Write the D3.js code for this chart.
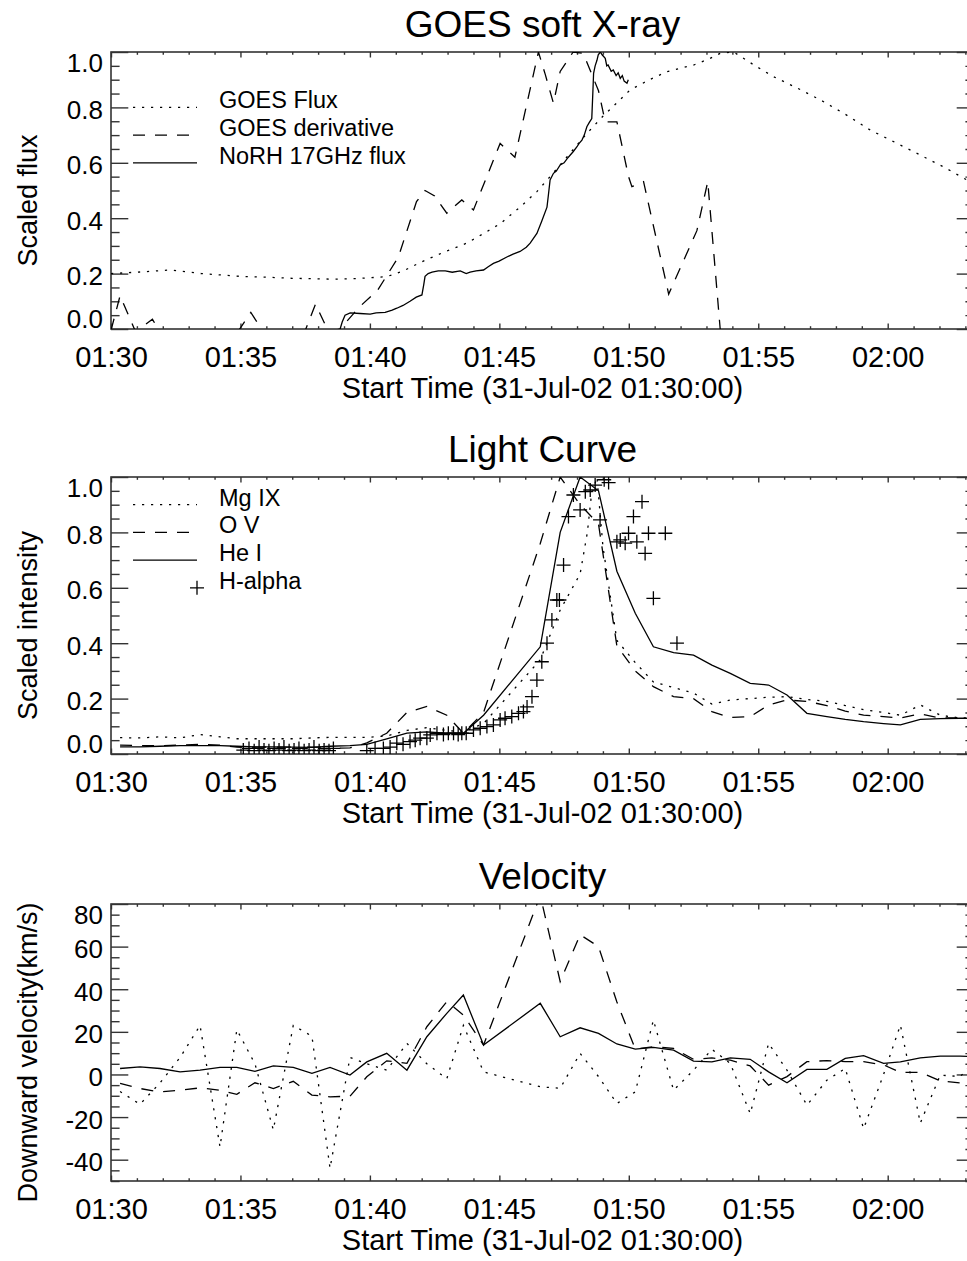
<!DOCTYPE html>
<html><head><meta charset="utf-8">
<script src="https://cdn.jsdelivr.net/npm/d3@7"></script>
<style>
body{margin:0;background:#fff}
svg{display:block}
text{font-family:"Liberation Sans",Arial,Helvetica,sans-serif;fill:#000}
</style>
</head><body>
<svg id="c" width="967" height="1261"></svg>
<script>
// ---------- axis tick labels ----------
const xTickMinutes = [0, 5, 10, 15, 20, 25, 30];
const xTickLabels = ["01:30", "01:35", "01:40", "01:45", "01:50", "01:55", "02:00"];
const yTicksScaled = [0, 0.2, 0.4, 0.6, 0.8, 1.0];
const yTickLabelsScaled = ["0.0", "0.2", "0.4", "0.6", "0.8", "1.0"];
const yTicksVel = [-40, -20, 0, 20, 40, 60, 80];
const yTickLabelsVel = ["-40", "-20", "0", "20", "40", "60", "80"];

// ---------- panel 1: GOES soft X-ray (time in minutes after 01:30) ----------
const goesFluxT = [0, 1, 2.3, 3.5, 5, 6, 7, 8.6, 9.5, 10.65, 11.3, 11.94, 12.8, 13.74, 14.4, 15.03, 15.8, 16.45, 16.96, 17.6, 18.38, 19.02, 20.05, 20.8, 21.47, 22.5, 23.1, 23.53, 24.05, 24.8, 25.59, 26.5, 27.4, 28.4, 29.33, 30.3, 31.26, 32.2, 33.06, 33.33];
const goesFluxV = [0.20, 0.205, 0.213, 0.20, 0.19, 0.187, 0.183, 0.18, 0.182, 0.189, 0.21, 0.24, 0.275, 0.31, 0.345, 0.38, 0.44, 0.496, 0.55, 0.62, 0.706, 0.77, 0.863, 0.90, 0.929, 0.953, 0.975, 0.995, 1.0, 0.955, 0.911, 0.87, 0.827, 0.773, 0.718, 0.673, 0.628, 0.583, 0.538, 0.53];

const goesDerivT = [0, 0.35, 0.95, 1.6, 2.2, 4.9, 5.4, 5.95, 7.4, 7.9, 8.4, 8.85, 9.6, 10.3, 11.1, 11.8, 12.13, 12.5, 12.97, 13.55, 14.0, 15.03, 15.6, 16.51, 16.77, 17.09, 17.35, 17.85, 18.24, 18.83, 19.09, 19.54, 19.99, 20.12, 20.57, 21.54, 22.63, 23.05, 23.53, 24.03];
const goesDerivV = [-0.005, 0.12, -0.01, 0.035, -0.06, -0.01, 0.06, -0.02, -0.03, 0.09, -0.01, 0.0, 0.08, 0.14, 0.26, 0.46, 0.5, 0.48, 0.418, 0.466, 0.43, 0.67, 0.62, 1.0, 0.92, 0.815, 0.93, 1.0, 0.995, 0.86, 0.748, 0.748, 0.55, 0.514, 0.532, 0.126, 0.355, 0.532, 0.0, -0.4];

const norhT = [8.85, 8.93, 9.04, 9.24, 9.62, 10.01, 10.24, 10.59, 10.86, 11.04, 11.28, 11.55, 11.79, 12.01, 12.08, 12.13, 12.25, 12.40, 12.64, 12.91, 13.18, 13.49, 13.72, 13.87, 14.10, 14.39, 14.57, 14.77, 14.99, 15.29, 15.53, 15.80, 16.04, 16.19, 16.45, 16.64, 16.84, 16.89, 16.96, 17.09, 17.20, 17.35, 17.50, 17.62, 17.74, 17.85, 18.00, 18.08, 18.19, 18.28, 18.38, 18.47, 18.57, 18.61, 18.64, 18.70, 18.77, 18.82, 18.90, 18.97, 19.09, 19.15, 19.20, 19.32, 19.40, 19.51, 19.59, 19.67, 19.75, 19.82, 19.93, 19.98];
const norhV = [0.0, 0.025, 0.05, 0.058, 0.056, 0.054, 0.058, 0.06, 0.068, 0.075, 0.085, 0.10, 0.115, 0.123, 0.16, 0.19, 0.20, 0.205, 0.21, 0.21, 0.205, 0.21, 0.20, 0.205, 0.21, 0.213, 0.225, 0.237, 0.245, 0.26, 0.27, 0.28, 0.295, 0.31, 0.345, 0.39, 0.44, 0.48, 0.538, 0.562, 0.57, 0.592, 0.60, 0.615, 0.628, 0.64, 0.658, 0.67, 0.682, 0.70, 0.73, 0.745, 0.76, 0.85, 0.923, 0.95, 0.97, 0.99, 1.0, 0.99, 0.977, 0.95, 0.953, 0.93, 0.935, 0.915, 0.925, 0.905, 0.915, 0.895, 0.887, 0.90];

// ---------- CDS raster times (minutes after 01:30) ----------
const cdsT = [0.35, 1.12, 1.89, 2.67, 3.44, 4.21, 4.86, 5.56, 6.27, 7.04, 7.76, 8.46, 9.23, 9.88, 10.65, 11.43, 12.2, 12.97, 13.61, 14.39, 16.58, 17.35, 18.12, 18.83, 19.54, 20.25, 20.95, 21.73, 22.5, 23.21, 23.92, 24.69, 25.4, 26.11, 26.88, 27.65, 28.36, 29.07, 29.84, 30.49, 31.26, 32.03, 32.8, 33.5];

// ---------- panel 2: Light Curve ----------
const mgT = [0.35, 1.12, 1.89, 2.67, 3.44, 4.21, 4.86, 5.56, 6.27, 7.04, 7.76, 8.46, 9.23, 9.88, 10.65, 11.43, 12.2, 12.97, 13.61, 14.39, 16.58, 17.35, 18.12, 18.4, 18.55, 18.77, 19.0, 19.54, 20.25, 20.95, 21.73, 22.5, 23.21, 23.92, 24.69, 25.4, 26.11, 26.88, 27.65, 28.36, 29.07, 29.84, 30.49, 31.26, 32.03, 32.8, 33.5];
const mgV = [0.059, 0.058, 0.062, 0.058, 0.07, 0.062, 0.055, 0.055, 0.055, 0.055, 0.058, 0.06, 0.06, 0.06, 0.065, 0.085, 0.095, 0.085, 0.08, 0.11, 0.34, 0.52, 0.65, 0.80, 0.93, 1.0, 0.75, 0.41, 0.33, 0.26, 0.24, 0.22, 0.18, 0.195, 0.20, 0.205, 0.207, 0.197, 0.19, 0.175, 0.16, 0.15, 0.14, 0.177, 0.14, 0.13, 0.13];
const ovV = [0.032, 0.03, 0.03, 0.032, 0.035, 0.032, 0.025, 0.02, 0.02, 0.02, 0.02, 0.02, 0.022, 0.04, 0.075, 0.15, 0.172, 0.14, 0.075, 0.15, 0.76, 1.0, 0.9, 0.83, 0.39, 0.30, 0.243, 0.207, 0.20, 0.153, 0.132, 0.135, 0.177, 0.195, 0.19, 0.175, 0.155, 0.14, 0.135, 0.13, 0.145, 0.13, 0.13, 0.13];
const heV = [0.026, 0.026, 0.028, 0.03, 0.03, 0.03, 0.028, 0.026, 0.026, 0.025, 0.024, 0.028, 0.03, 0.035, 0.055, 0.075, 0.08, 0.075, 0.075, 0.14, 0.387, 0.80, 1.0, 0.95, 0.66, 0.508, 0.387, 0.366, 0.357, 0.321, 0.291, 0.255, 0.249, 0.213, 0.147, 0.135, 0.125, 0.117, 0.11, 0.105, 0.125, 0.128, 0.129, 0.129];

const haT = [5.11, 5.33, 5.53, 5.72, 5.91, 6.10, 6.30, 6.49, 6.68, 6.88, 7.07, 7.26, 7.46, 7.65, 7.84, 8.04, 8.23, 8.42, 8.59, 9.88, 10.20, 10.52, 10.78, 11.04, 11.28, 11.55, 11.75, 11.94, 12.20, 12.33, 12.59, 12.84, 13.03, 13.23, 13.41, 13.55, 13.72, 14.00, 14.26, 14.52, 14.77, 15.03, 15.22, 15.48, 15.74, 15.93, 16.07, 16.26, 16.45, 16.64, 16.84, 17.03, 17.22, 17.32, 17.48, 17.67, 17.86, 18.12, 18.32, 18.51, 18.70, 18.89, 19.05, 19.22, 19.54, 19.67, 19.86, 19.99, 20.18, 20.31, 20.51, 20.63, 20.76, 20.95, 21.41, 21.86];
const haV = [0.014, 0.02, 0.012, 0.025, 0.014, 0.012, 0.02, 0.014, 0.025, 0.012, 0.014, 0.02, 0.012, 0.014, 0.025, 0.012, 0.014, 0.012, 0.02, 0.012, 0.02, 0.02, 0.025, 0.039, 0.035, 0.045, 0.05, 0.057, 0.057, 0.069, 0.075, 0.07, 0.075, 0.075, 0.07, 0.075, 0.075, 0.087, 0.093, 0.099, 0.105, 0.123, 0.129, 0.135, 0.147, 0.153, 0.17, 0.207, 0.267, 0.333, 0.40, 0.484, 0.556, 0.556, 0.682, 0.857, 0.935, 0.881, 0.947, 0.953, 0.971, 0.845, 0.99, 0.98, 0.766, 0.773, 0.761, 0.797, 0.857, 0.766, 0.911, 0.724, 0.797, 0.562, 0.797, 0.40];

// ---------- panel 3: Velocity (km/s) ----------
const velMgV = [-8, -14, -4, 8, 23, -34, 21, 5, -26, 23, 18, -44, 8, 5, 2, 14.6, 5, -2, 23, 1.2, -5.8, -6.5, 9.9, -1, -13.6, -8.2, 25.5, -7.4, 2, 11.8, 5.2, -18.4, 14.6, 2, -14.4, -2.7, 2.8, -25.4, 0, 23.2, -22.8, -0.3, -1, 8];
const velOvV = [-4.2, -6.6, -8.2, -7.4, -6.3, -7.4, -9.3, -3.9, -6.6, -3.2, -9.7, -10.5, -10.2, -1.1, 6.4, 5.2, 22.4, 34.2, 27.9, 13.8, 84, 43.6, 65.6, 60, 34, 11.9, 13, 12.2, 7.1, 7.8, 6.7, 4, -5, -1, 6, 6.5, 6, 6, 4.5, 1, 1, -3, -4, -4];
const velHeV = [2.8, 3.6, 2.8, 1.2, 2, 3.3, 3.3, 1.5, 4, 3.3, 0.5, 3.3, -0.3, 5.9, 9.9, 2, 17.7, 28.7, 37.3, 13.8, 33.4, 17.7, 21.9, 19.3, 14.3, 11.9, 12.7, 11.4, 6.3, 5.9, 7.8, 7.1, 1.2, -3.9, 2.4, 2.4, 7.5, 8.8, 5.2, 5.9, 7.8, 8.6, 8.6, 8.2];

// ---------- drawing ----------
const svg = d3.select("#c");
const L = 111, R = 974, PH = 277;
const x = d3.scaleLinear().domain([0, 2000 / 60]).range([L, R]);
const DOT = "2.2,6.8", DASH = "12,10";
const AX = "#333";

function panel(cfg) {
  const top = cfg.top, bot = top + PH;
  const y = d3.scaleLinear().domain(cfg.yDomain).range([bot, top]);
  const g = svg.append("g");
  const clipId = "clip" + top;
  svg.append("defs").append("clipPath").attr("id", clipId)
    .append("rect").attr("x", L).attr("y", top).attr("width", R - L).attr("height", PH);

  const xMinor = d3.range(0, 34, 1).filter(v => v % 5 !== 0);
  const yMinor = d3.range(cfg.yDomain[0], cfg.yDomain[1] + 1e-9, cfg.yMinorStep)
    .filter(v => !cfg.yTicks.some(t => Math.abs(t - v) < 1e-9));

  const bx = g.append("g").attr("transform", `translate(0,${bot})`)
    .call(d3.axisBottom(x).tickValues(xMinor).tickSize(-2.8).tickFormat(""));
  const bxM = g.append("g").attr("transform", `translate(0,${bot})`)
    .call(d3.axisBottom(x).tickValues(xTickMinutes).tickSize(-5.5).tickPadding(17.5)
      .tickFormat((d, i) => xTickLabels[i]));
  const tx = g.append("g").attr("transform", `translate(0,${top})`)
    .call(d3.axisTop(x).tickValues(xMinor).tickSize(-2.8).tickFormat(""));
  const txM = g.append("g").attr("transform", `translate(0,${top})`)
    .call(d3.axisTop(x).tickValues(xTickMinutes).tickSize(-5.5).tickFormat(""));
  const ly = g.append("g").attr("transform", `translate(${L},0)`)
    .call(d3.axisLeft(y).tickValues(yMinor).tickSize(-8.6).tickFormat(""));
  const lyM = g.append("g").attr("transform", `translate(${L},0)`)
    .call(d3.axisLeft(y).tickValues(cfg.yTicks).tickSize(-17.3).tickPadding(8)
      .tickFormat((d, i) => cfg.yLabels[i]));
  const ry = g.append("g").attr("transform", `translate(${R},0)`)
    .call(d3.axisRight(y).tickValues(yMinor).tickSize(-8.6).tickFormat(""));
  const ryM = g.append("g").attr("transform", `translate(${R},0)`)
    .call(d3.axisRight(y).tickValues(cfg.yTicks).tickSize(-17.3).tickFormat(""));

  [bx, bxM, tx, txM, ly, lyM, ry, ryM].forEach(a => {
    a.select(".domain").remove();
    a.selectAll("line").attr("stroke", AX).attr("stroke-width", 1.4);
    a.selectAll("text").attr("font-family", null);
  });
  bxM.selectAll("text").attr("font-size", 29).attr("fill", "#000");
  lyM.selectAll("text").attr("font-size", 26).attr("fill", "#000").attr("dy", null)
    .attr("y", d => {
      const ty = y(d);
      return Math.max(top + 19 - ty, Math.min(11, bot - 1.8 - ty));
    });

  g.append("rect").attr("x", L).attr("y", top).attr("width", R - L).attr("height", PH)
    .attr("fill", "none").attr("stroke", AX).attr("stroke-width", 1.6);

  svg.append("text").attr("x", (L + R) / 2).attr("y", top - 15).attr("text-anchor", "middle")
    .attr("font-size", 37).text(cfg.title);
  svg.append("text").attr("x", (L + R) / 2).attr("y", bot + 69).attr("text-anchor", "middle")
    .attr("font-size", 29).text("Start Time (31-Jul-02 01:30:00)");
  svg.append("text").attr("transform", `translate(37,${top + PH / 2 + 10}) rotate(-90)`)
    .attr("text-anchor", "middle").attr("font-size", 27).text(cfg.ytitle);

  const data = g.append("g").attr("clip-path", `url(#${clipId})`);
  const line = d3.line().x(d => x(d[0])).y(d => y(d[1]));
  cfg.series.forEach(s => {
    if (s.plus) {
      data.selectAll(null).data(d3.zip(s.t, s.v)).join("path")
        .attr("d", d => `M${x(d[0]) - 7},${y(d[1])}h14M${x(d[0])},${y(d[1]) - 7}v14`)
        .attr("stroke", "#000").attr("stroke-width", 1.3).attr("fill", "none");
    } else {
      data.append("path").datum(d3.zip(s.t, s.v)).attr("d", line)
        .attr("fill", "none").attr("stroke", "#000").attr("stroke-width", 1.3)
        .attr("stroke-dasharray", s.dash);
    }
  });

  if (cfg.legend) {
    cfg.legend.forEach((it, i) => {
      const ly0 = y(cfg.legendY[i]);
      if (it.plus) {
        svg.append("path").attr("d", `M${190},${ly0}h14M${197},${ly0 - 7}v14`)
          .attr("stroke", "#000").attr("stroke-width", 1.3);
      } else {
        svg.append("line").attr("x1", 133).attr("x2", 197).attr("y1", ly0).attr("y2", ly0)
          .attr("stroke", "#000").attr("stroke-width", 1.3).attr("stroke-dasharray", it.dash);
      }
      svg.append("text").attr("x", 219).attr("y", ly0 + 1).attr("font-size", 23.5).text(it.label);
    });
  }
}

panel({
  top: 52, yDomain: [0, 1], yTicks: yTicksScaled, yLabels: yTickLabelsScaled, yMinorStep: 0.05,
  title: "GOES soft X-ray", ytitle: "Scaled flux",
  series: [
    {t: goesFluxT, v: goesFluxV, dash: DOT},
    {t: goesDerivT, v: goesDerivV, dash: DASH},
    {t: norhT, v: norhV, dash: null}
  ],
  legend: [
    {label: "GOES Flux", dash: DOT},
    {label: "GOES derivative", dash: DASH},
    {label: "NoRH 17GHz flux", dash: null}
  ],
  legendY: [0.8, 0.7, 0.6]
});

panel({
  top: 477, yDomain: [0, 1], yTicks: yTicksScaled, yLabels: yTickLabelsScaled, yMinorStep: 0.05,
  title: "Light Curve", ytitle: "Scaled intensity",
  series: [
    {t: mgT, v: mgV, dash: DOT},
    {t: cdsT, v: ovV, dash: DASH},
    {t: cdsT, v: heV, dash: null},
    {t: haT, v: haV, plus: true}
  ],
  legend: [
    {label: "Mg IX", dash: DOT},
    {label: "O V", dash: DASH},
    {label: "He I", dash: null},
    {label: "H-alpha", plus: true}
  ],
  legendY: [0.9, 0.8, 0.7, 0.6]
});

panel({
  top: 904, yDomain: [-50, 80], yTicks: yTicksVel, yLabels: yTickLabelsVel, yMinorStep: 5,
  title: "Velocity", ytitle: "Downward velocity(km/s)",
  series: [
    {t: cdsT, v: velMgV, dash: DOT},
    {t: cdsT, v: velOvV, dash: DASH},
    {t: cdsT, v: velHeV, dash: null}
  ]
});
</script>
</body></html>
